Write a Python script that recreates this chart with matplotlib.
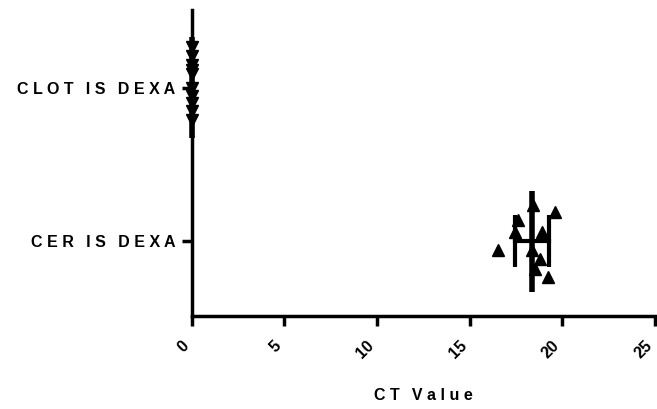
import matplotlib
matplotlib.use("Agg")
import matplotlib.pyplot as plt
import numpy as np

plt.rcParams["font.family"] = ["Liberation Sans", "DejaVu Sans"]

groups = ["CER IS DEXA", "CLOT IS DEXA"]
cer_ct = [18.41, 19.60, 17.60, 17.44, 18.90, 16.52, 18.36, 18.79, 18.52, 19.22]
cer_jitter = [0.235, 0.19, 0.14, 0.06, 0.06, -0.06, -0.06, -0.12, -0.18, -0.235]
clot_ct = [0, 0, 0, 0, 0, 0, 0, 0, 0, 0]
clot_jitter = [0.27, 0.21, 0.15, 0.12, 0.09, 0.0, -0.05, -0.1, -0.15, -0.21]
xticks = [0, 5, 10, 15, 20, 25]


def spaced(s):
    # wide letter tracking, as in the original
    return " ".join(s.replace(" ", "\u2009"))


fig = plt.figure(figsize=(6.57, 4.09), dpi=100)
ax = fig.add_axes([0.292, 0.227, 0.705, 0.749])

for pos, vals, jit, mk in [(0, cer_ct, cer_jitter, "^"), (1, clot_ct, clot_jitter, "v")]:
    vals = np.array(vals)
    ax.plot(vals, pos + np.array(jit), linestyle="none", marker=mk,
            color="black", markersize=8, clip_on=False, zorder=3)
    m = vals.mean()
    sd = vals.std(ddof=1)
    ax.plot([m, m], [pos - 0.33, pos + 0.33], color="black", lw=4,
            solid_capstyle="butt", clip_on=False, zorder=4)
    if sd > 0:
        ax.plot([m - sd, m + sd], [pos, pos], color="black", lw=3, zorder=4)
        for e in (m - sd, m + sd):
            ax.plot([e, e], [pos - 0.17, pos + 0.17], color="black", lw=3,
                    solid_capstyle="butt", zorder=4)

ax.set_xlim(0, 25)
ax.set_ylim(-0.49, 1.51)
ax.set_xticks(xticks)
ax.set_xticklabels([str(t) for t in xticks], rotation=45, ha="right", va="bottom",
                   rotation_mode="anchor", fontweight="bold", fontsize=11.5)
ax.set_yticks([0, 1])
ax.set_yticklabels([spaced(g) for g in groups], fontweight="bold", fontsize=11.5)
ax.set_xlabel(spaced("CT Value"), fontweight="bold", fontsize=11.5, labelpad=19)

for side in ("top", "right"):
    ax.spines[side].set_visible(False)
for side in ("left", "bottom"):
    ax.spines[side].set_linewidth(2.5)
ax.tick_params(axis="both", direction="out", length=7, width=2.5)
ax.tick_params(axis="x", pad=16.5)
ax.tick_params(axis="y", pad=5)

fig.savefig("out.png", dpi=100)
